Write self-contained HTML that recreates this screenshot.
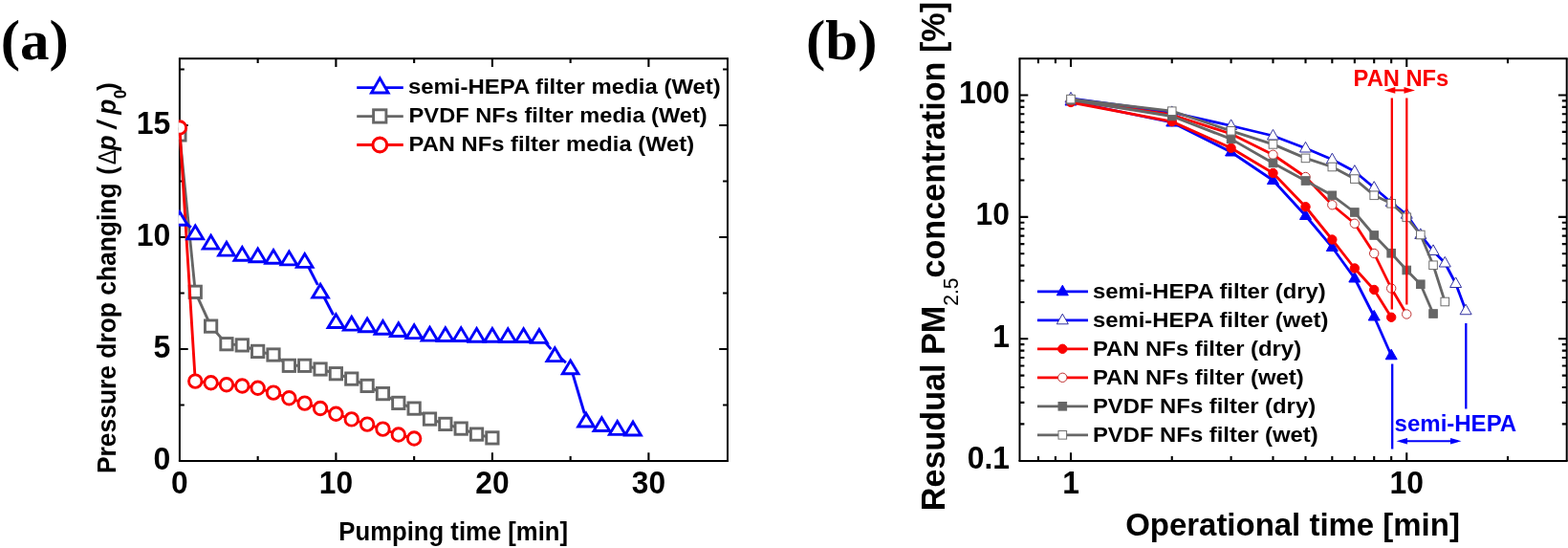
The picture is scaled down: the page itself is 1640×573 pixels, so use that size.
<!DOCTYPE html>
<html><head><meta charset="utf-8"><title>Figure</title>
<style>
html,body{margin:0;padding:0;background:#fff;}
body{width:1640px;height:573px;overflow:hidden;}
svg{display:block;}
text{font-family:"Liberation Sans",sans-serif;font-weight:bold;fill:#000;}
.ser{font-family:"Liberation Serif",serif;font-weight:bold;}
</style></head><body>
<svg width="1640" height="573" viewBox="0 0 1640 573">
<rect x="0" y="0" width="1640" height="573" fill="#fff"/>

<g stroke="#000" fill="none">
<path d="M186.9,61.2H762.0M186.9,482.0H762.0" stroke-width="2.05"/>
<path d="M187.9,61.2V482.0M761.0,61.2V482.0" stroke-width="2.0"/>
<path d="M269.65,482.0v-4.9M269.65,61.2v4.9M351.40,482.0v-8.8M351.40,61.2v8.8M433.15,482.0v-4.9M433.15,61.2v4.9M514.90,482.0v-8.8M514.90,61.2v8.8M596.65,482.0v-4.9M596.65,61.2v4.9M678.40,482.0v-8.8M678.40,61.2v8.8M187.9,423.50h4.9M761.0,423.50h-4.9M187.9,365.00h8.8M761.0,365.00h-8.8M187.9,306.50h4.9M761.0,306.50h-4.9M187.9,248.00h8.8M761.0,248.00h-8.8M187.9,189.50h4.9M761.0,189.50h-4.9M187.9,131.00h8.8M761.0,131.00h-8.8M187.9,72.50h4.9M761.0,72.50h-4.9" stroke-width="2.1"/>
</g>
<clipPath id="clipA"><rect x="186.9" y="61.2" width="573.1" height="420.8"/></clipPath>
<g clip-path="url(#clipA)" fill="#fff" stroke-width="2.9">
<polyline points="187.90,140.90 204.25,305.30 220.60,341.10 236.95,359.70 253.30,360.90 269.65,367.40 286.00,371.00 302.35,382.30 318.70,382.30 335.05,386.00 351.40,390.70 367.75,396.10 384.10,403.40 400.45,411.60 416.80,421.40 433.15,427.10 449.50,438.10 465.85,443.40 482.20,448.10 498.55,454.10 514.90,457.90" fill="none" stroke="#666666" stroke-linejoin="round"/>
<rect x="181.75" y="134.75" width="12.3" height="12.3" stroke="#666666"/>
<rect x="198.10" y="299.15" width="12.3" height="12.3" stroke="#666666"/>
<rect x="214.45" y="334.95" width="12.3" height="12.3" stroke="#666666"/>
<rect x="230.80" y="353.55" width="12.3" height="12.3" stroke="#666666"/>
<rect x="247.15" y="354.75" width="12.3" height="12.3" stroke="#666666"/>
<rect x="263.50" y="361.25" width="12.3" height="12.3" stroke="#666666"/>
<rect x="279.85" y="364.85" width="12.3" height="12.3" stroke="#666666"/>
<rect x="296.20" y="376.15" width="12.3" height="12.3" stroke="#666666"/>
<rect x="312.55" y="376.15" width="12.3" height="12.3" stroke="#666666"/>
<rect x="328.90" y="379.85" width="12.3" height="12.3" stroke="#666666"/>
<rect x="345.25" y="384.55" width="12.3" height="12.3" stroke="#666666"/>
<rect x="361.60" y="389.95" width="12.3" height="12.3" stroke="#666666"/>
<rect x="377.95" y="397.25" width="12.3" height="12.3" stroke="#666666"/>
<rect x="394.30" y="405.45" width="12.3" height="12.3" stroke="#666666"/>
<rect x="410.65" y="415.25" width="12.3" height="12.3" stroke="#666666"/>
<rect x="427.00" y="420.95" width="12.3" height="12.3" stroke="#666666"/>
<rect x="443.35" y="431.95" width="12.3" height="12.3" stroke="#666666"/>
<rect x="459.70" y="437.25" width="12.3" height="12.3" stroke="#666666"/>
<rect x="476.05" y="441.95" width="12.3" height="12.3" stroke="#666666"/>
<rect x="492.40" y="447.95" width="12.3" height="12.3" stroke="#666666"/>
<rect x="508.75" y="451.75" width="12.3" height="12.3" stroke="#666666"/>
<polyline points="187.90,133.50 204.25,398.60 220.60,400.30 236.95,402.30 253.30,403.50 269.65,405.80 286.00,410.60 302.35,416.30 318.70,421.60 335.05,427.00 351.40,432.80 367.75,438.40 384.10,443.60 400.45,448.60 416.80,454.50 433.15,458.50" fill="none" stroke="#fa0000" stroke-linejoin="round"/>
<circle cx="187.90" cy="133.50" r="6.75" stroke="#fa0000"/>
<circle cx="204.25" cy="398.60" r="6.75" stroke="#fa0000"/>
<circle cx="220.60" cy="400.30" r="6.75" stroke="#fa0000"/>
<circle cx="236.95" cy="402.30" r="6.75" stroke="#fa0000"/>
<circle cx="253.30" cy="403.50" r="6.75" stroke="#fa0000"/>
<circle cx="269.65" cy="405.80" r="6.75" stroke="#fa0000"/>
<circle cx="286.00" cy="410.60" r="6.75" stroke="#fa0000"/>
<circle cx="302.35" cy="416.30" r="6.75" stroke="#fa0000"/>
<circle cx="318.70" cy="421.60" r="6.75" stroke="#fa0000"/>
<circle cx="335.05" cy="427.00" r="6.75" stroke="#fa0000"/>
<circle cx="351.40" cy="432.80" r="6.75" stroke="#fa0000"/>
<circle cx="367.75" cy="438.40" r="6.75" stroke="#fa0000"/>
<circle cx="384.10" cy="443.60" r="6.75" stroke="#fa0000"/>
<circle cx="400.45" cy="448.60" r="6.75" stroke="#fa0000"/>
<circle cx="416.80" cy="454.50" r="6.75" stroke="#fa0000"/>
<circle cx="433.15" cy="458.50" r="6.75" stroke="#fa0000"/>
<line x1="192.38" y1="231.30" x2="199.77" y2="237.90" stroke="#0000fa"/>
<line x1="321.44" y1="276.74" x2="332.31" y2="297.86" stroke="#0000fa"/>
<line x1="337.82" y1="308.52" x2="348.63" y2="329.28" stroke="#0000fa"/>
<line x1="567.83" y1="354.98" x2="576.42" y2="365.12" stroke="#0000fa"/>
<line x1="584.98" y1="373.45" x2="591.97" y2="379.05" stroke="#0000fa"/>
<line x1="598.35" y1="388.55" x2="611.30" y2="432.25" stroke="#0000fa"/>
<path d="M187.90,221.46L196.19,235.25L179.61,235.25Z" stroke="#0000fa" stroke-linejoin="miter"/>
<path d="M204.25,236.06L212.54,249.85L195.96,249.85Z" stroke="#0000fa" stroke-linejoin="miter"/>
<path d="M220.60,246.35L228.89,260.15L212.31,260.15Z" stroke="#0000fa" stroke-linejoin="miter"/>
<path d="M236.95,253.35L245.24,267.15L228.66,267.15Z" stroke="#0000fa" stroke-linejoin="miter"/>
<path d="M253.30,258.46L261.59,272.25L245.01,272.25Z" stroke="#0000fa" stroke-linejoin="miter"/>
<path d="M269.65,259.95L277.94,273.75L261.36,273.75Z" stroke="#0000fa" stroke-linejoin="miter"/>
<path d="M286.00,261.45L294.29,275.25L277.71,275.25Z" stroke="#0000fa" stroke-linejoin="miter"/>
<path d="M302.35,263.05L310.64,276.85L294.06,276.85Z" stroke="#0000fa" stroke-linejoin="miter"/>
<path d="M318.70,265.55L326.99,279.35L310.41,279.35Z" stroke="#0000fa" stroke-linejoin="miter"/>
<path d="M335.05,297.35L343.34,311.15L326.76,311.15Z" stroke="#0000fa" stroke-linejoin="miter"/>
<path d="M351.40,328.75L359.69,342.55L343.11,342.55Z" stroke="#0000fa" stroke-linejoin="miter"/>
<path d="M367.75,331.35L376.04,345.15L359.46,345.15Z" stroke="#0000fa" stroke-linejoin="miter"/>
<path d="M384.10,332.95L392.39,346.75L375.81,346.75Z" stroke="#0000fa" stroke-linejoin="miter"/>
<path d="M400.45,335.45L408.74,349.25L392.16,349.25Z" stroke="#0000fa" stroke-linejoin="miter"/>
<path d="M416.80,337.75L425.09,351.55L408.51,351.55Z" stroke="#0000fa" stroke-linejoin="miter"/>
<path d="M433.15,339.85L441.44,353.65L424.86,353.65Z" stroke="#0000fa" stroke-linejoin="miter"/>
<path d="M449.50,342.35L457.79,356.15L441.21,356.15Z" stroke="#0000fa" stroke-linejoin="miter"/>
<path d="M465.85,342.75L474.14,356.55L457.56,356.55Z" stroke="#0000fa" stroke-linejoin="miter"/>
<path d="M482.20,342.75L490.49,356.55L473.91,356.55Z" stroke="#0000fa" stroke-linejoin="miter"/>
<path d="M498.55,343.45L506.84,357.25L490.26,357.25Z" stroke="#0000fa" stroke-linejoin="miter"/>
<path d="M514.90,343.45L523.19,357.25L506.61,357.25Z" stroke="#0000fa" stroke-linejoin="miter"/>
<path d="M531.25,343.75L539.54,357.55L522.96,357.55Z" stroke="#0000fa" stroke-linejoin="miter"/>
<path d="M547.60,343.75L555.89,357.55L539.31,357.55Z" stroke="#0000fa" stroke-linejoin="miter"/>
<path d="M563.95,344.55L572.24,358.35L555.66,358.35Z" stroke="#0000fa" stroke-linejoin="miter"/>
<path d="M580.30,363.85L588.59,377.65L572.01,377.65Z" stroke="#0000fa" stroke-linejoin="miter"/>
<path d="M596.65,376.95L604.94,390.75L588.36,390.75Z" stroke="#0000fa" stroke-linejoin="miter"/>
<path d="M613.00,432.15L621.29,445.95L604.71,445.95Z" stroke="#0000fa" stroke-linejoin="miter"/>
<path d="M629.35,436.75L637.64,450.55L621.06,450.55Z" stroke="#0000fa" stroke-linejoin="miter"/>
<path d="M645.70,440.55L653.99,454.35L637.41,454.35Z" stroke="#0000fa" stroke-linejoin="miter"/>
<path d="M662.05,441.15L670.34,454.95L653.76,454.95Z" stroke="#0000fa" stroke-linejoin="miter"/>
</g>
<text transform="translate(187.90,515.80) scale(0.9600,1)" font-size="33" text-anchor="middle">0</text>
<text transform="translate(351.40,515.80) scale(0.9600,1)" font-size="33" text-anchor="middle">10</text>
<text transform="translate(514.90,515.80) scale(0.9600,1)" font-size="33" text-anchor="middle">20</text>
<text transform="translate(678.40,515.80) scale(0.9600,1)" font-size="33" text-anchor="middle">30</text>
<text transform="translate(178.30,490.90) scale(0.9700,1)" font-size="33" text-anchor="end">0</text>
<text transform="translate(178.30,373.90) scale(0.9700,1)" font-size="33" text-anchor="end">5</text>
<text transform="translate(178.30,256.90) scale(0.9700,1)" font-size="33" text-anchor="end">10</text>
<text transform="translate(178.30,139.90) scale(0.9700,1)" font-size="33" text-anchor="end">15</text>
<text transform="translate(474.20,564.90) scale(0.9610,1)" font-size="26.75" text-anchor="middle">Pumping time [min]</text>
<text transform="translate(121.4,495.0) rotate(-90) scale(0.948,1)" font-size="27.85"><tspan x="0">Pressure drop changing</tspan><tspan x="329.32">(</tspan><tspan x="340.51" font-weight="normal" font-size="25">Δ</tspan><tspan x="356.01" font-style="italic">p</tspan><tspan x="380.27" font-style="italic">/</tspan><tspan x="395.78" font-style="italic">p</tspan><tspan x="413.29" y="10.5" font-size="18">0</tspan><tspan x="421.94" y="0">)</tspan></text>
<line x1="373.2" y1="91.6" x2="421.8" y2="91.6" stroke="#0000fa" stroke-width="2.9"/>
<path d="M397.30,81.85L406.09,96.95L388.51,96.95Z" fill="#fff" stroke="#0000fa" stroke-width="2.9"/>
<text transform="translate(426.90,98.10) scale(1.0510,1)" font-size="22.8">semi-HEPA filter media (Wet)</text>
<line x1="373.2" y1="121.6" x2="421.8" y2="121.6" stroke="#666666" stroke-width="2.9"/>
<rect x="390.6" y="114.8" width="13.3" height="13.3" fill="#fff" stroke="#666666" stroke-width="2.9"/>
<text transform="translate(427.60,128.20) scale(1.0370,1)" font-size="22.8">PVDF NFs filter media (Wet)</text>
<line x1="373.2" y1="151.5" x2="421.8" y2="151.5" stroke="#fa0000" stroke-width="2.9"/>
<circle cx="397.3" cy="151.5" r="7.4" fill="#fff" stroke="#fa0000" stroke-width="3.1"/>
<text transform="translate(427.60,158.30) scale(1.0420,1)" font-size="22.8">PAN NFs filter media (Wet)</text>
<text transform="translate(0.80,61.80) scale(1.0250,1)" font-size="59.5" class="ser">(a)</text>
<text transform="translate(843.00,61.80) scale(1.0250,1)" font-size="59.5" class="ser">(b)</text>
<g stroke="#000" fill="none">
<path d="M1065.5,61.3H1639.7M1065.5,482.0H1639.7" stroke-width="2.05"/>
<path d="M1066.5,61.3V482.0M1638.7,61.3V482.0" stroke-width="2.0"/>
<path d="M1085.96,482.0v-4.9M1085.96,61.3v4.9M1103.93,482.0v-4.9M1103.93,61.3v4.9M1120.00,482.0v-8.8M1120.00,61.3v8.8M1225.74,482.0v-4.9M1225.74,61.3v4.9M1287.59,482.0v-4.9M1287.59,61.3v4.9M1331.47,482.0v-4.9M1331.47,61.3v4.9M1365.51,482.0v-4.9M1365.51,61.3v4.9M1393.33,482.0v-4.9M1393.33,61.3v4.9M1416.84,482.0v-4.9M1416.84,61.3v4.9M1437.21,482.0v-4.9M1437.21,61.3v4.9M1455.18,482.0v-4.9M1455.18,61.3v4.9M1471.25,482.0v-8.8M1471.25,61.3v8.8M1576.99,482.0v-4.9M1576.99,61.3v4.9M1066.5,443.35h4.9M1638.7,443.35h-4.9M1066.5,420.91h4.9M1638.7,420.91h-4.9M1066.5,405.00h4.9M1638.7,405.00h-4.9M1066.5,392.65h4.9M1638.7,392.65h-4.9M1066.5,382.56h4.9M1638.7,382.56h-4.9M1066.5,374.03h4.9M1638.7,374.03h-4.9M1066.5,366.65h4.9M1638.7,366.65h-4.9M1066.5,360.13h4.9M1638.7,360.13h-4.9M1066.5,354.30h8.8M1638.7,354.30h-8.8M1066.5,315.95h4.9M1638.7,315.95h-4.9M1066.5,293.51h4.9M1638.7,293.51h-4.9M1066.5,277.60h4.9M1638.7,277.60h-4.9M1066.5,265.25h4.9M1638.7,265.25h-4.9M1066.5,255.16h4.9M1638.7,255.16h-4.9M1066.5,246.63h4.9M1638.7,246.63h-4.9M1066.5,239.25h4.9M1638.7,239.25h-4.9M1066.5,232.73h4.9M1638.7,232.73h-4.9M1066.5,226.90h8.8M1638.7,226.90h-8.8M1066.5,188.55h4.9M1638.7,188.55h-4.9M1066.5,166.11h4.9M1638.7,166.11h-4.9M1066.5,150.20h4.9M1638.7,150.20h-4.9M1066.5,137.85h4.9M1638.7,137.85h-4.9M1066.5,127.76h4.9M1638.7,127.76h-4.9M1066.5,119.23h4.9M1638.7,119.23h-4.9M1066.5,111.85h4.9M1638.7,111.85h-4.9M1066.5,105.33h4.9M1638.7,105.33h-4.9M1066.5,99.50h8.8M1638.7,99.50h-8.8" stroke-width="2.1"/>
</g>
<clipPath id="clipB"><rect x="1066.5" y="61.3" width="572.2" height="420.7"/></clipPath>
<g clip-path="url(#clipB)">
<polyline points="1120.00,106.00 1225.74,128.00 1287.59,159.00 1331.47,188.50 1365.51,225.50 1393.33,258.50 1416.84,291.00 1437.21,331.00 1455.18,371.75" fill="none" stroke="#0000fa" stroke-width="2.8" stroke-linejoin="round"/>
<path d="M1120.00,99.40L1126.00,110.00L1114.00,110.00Z" fill="#0000fa" stroke="#0000fa" stroke-width="1"/>
<path d="M1225.74,121.40L1231.74,132.00L1219.74,132.00Z" fill="#0000fa" stroke="#0000fa" stroke-width="1"/>
<path d="M1287.59,152.40L1293.59,163.00L1281.59,163.00Z" fill="#0000fa" stroke="#0000fa" stroke-width="1"/>
<path d="M1331.47,181.90L1337.47,192.50L1325.47,192.50Z" fill="#0000fa" stroke="#0000fa" stroke-width="1"/>
<path d="M1365.51,218.90L1371.51,229.50L1359.51,229.50Z" fill="#0000fa" stroke="#0000fa" stroke-width="1"/>
<path d="M1393.33,251.90L1399.33,262.50L1387.33,262.50Z" fill="#0000fa" stroke="#0000fa" stroke-width="1"/>
<path d="M1416.84,284.40L1422.84,295.00L1410.84,295.00Z" fill="#0000fa" stroke="#0000fa" stroke-width="1"/>
<path d="M1437.21,324.40L1443.21,335.00L1431.21,335.00Z" fill="#0000fa" stroke="#0000fa" stroke-width="1"/>
<path d="M1455.18,365.15L1461.18,375.75L1449.18,375.75Z" fill="#0000fa" stroke="#0000fa" stroke-width="1"/>
<polyline points="1120.00,103.00 1225.74,117.50 1287.59,131.50 1331.47,142.00 1365.51,155.00 1393.33,166.80 1416.84,179.25 1437.21,196.25 1455.18,211.75 1471.25,224.25 1485.79,245.50 1499.06,262.50 1511.27,275.00 1522.58,296.50 1533.10,324.75" fill="none" stroke="#0000fa" stroke-width="2.8" stroke-linejoin="round"/>
<path d="M1120.00,96.40L1126.00,107.00L1114.00,107.00Z" fill="#fff" stroke="#3030a0" stroke-width="1"/>
<path d="M1225.74,110.90L1231.74,121.50L1219.74,121.50Z" fill="#fff" stroke="#3030a0" stroke-width="1"/>
<path d="M1287.59,124.90L1293.59,135.50L1281.59,135.50Z" fill="#fff" stroke="#3030a0" stroke-width="1"/>
<path d="M1331.47,135.40L1337.47,146.00L1325.47,146.00Z" fill="#fff" stroke="#3030a0" stroke-width="1"/>
<path d="M1365.51,148.40L1371.51,159.00L1359.51,159.00Z" fill="#fff" stroke="#3030a0" stroke-width="1"/>
<path d="M1393.33,160.20L1399.33,170.80L1387.33,170.80Z" fill="#fff" stroke="#3030a0" stroke-width="1"/>
<path d="M1416.84,172.65L1422.84,183.25L1410.84,183.25Z" fill="#fff" stroke="#3030a0" stroke-width="1"/>
<path d="M1437.21,189.65L1443.21,200.25L1431.21,200.25Z" fill="#fff" stroke="#3030a0" stroke-width="1"/>
<path d="M1455.18,205.15L1461.18,215.75L1449.18,215.75Z" fill="#fff" stroke="#3030a0" stroke-width="1"/>
<path d="M1471.25,217.65L1477.25,228.25L1465.25,228.25Z" fill="#fff" stroke="#3030a0" stroke-width="1"/>
<path d="M1485.79,238.90L1491.79,249.50L1479.79,249.50Z" fill="#fff" stroke="#3030a0" stroke-width="1"/>
<path d="M1499.06,255.90L1505.06,266.50L1493.06,266.50Z" fill="#fff" stroke="#3030a0" stroke-width="1"/>
<path d="M1511.27,268.40L1517.27,279.00L1505.27,279.00Z" fill="#fff" stroke="#3030a0" stroke-width="1"/>
<path d="M1522.58,289.90L1528.58,300.50L1516.58,300.50Z" fill="#fff" stroke="#3030a0" stroke-width="1"/>
<path d="M1533.10,318.15L1539.10,328.75L1527.10,328.75Z" fill="#fff" stroke="#3030a0" stroke-width="1"/>
<polyline points="1120.00,107.00 1225.74,127.10 1287.59,154.75 1331.47,181.00 1365.51,216.25 1393.33,250.50 1416.84,280.50 1437.21,303.00 1455.18,331.75" fill="none" stroke="#fa0000" stroke-width="2.8" stroke-linejoin="round"/>
<circle cx="1120.00" cy="107.00" r="4.7" fill="#fa0000" stroke="#fa0000" stroke-width="1"/>
<circle cx="1225.74" cy="127.10" r="4.7" fill="#fa0000" stroke="#fa0000" stroke-width="1"/>
<circle cx="1287.59" cy="154.75" r="4.7" fill="#fa0000" stroke="#fa0000" stroke-width="1"/>
<circle cx="1331.47" cy="181.00" r="4.7" fill="#fa0000" stroke="#fa0000" stroke-width="1"/>
<circle cx="1365.51" cy="216.25" r="4.7" fill="#fa0000" stroke="#fa0000" stroke-width="1"/>
<circle cx="1393.33" cy="250.50" r="4.7" fill="#fa0000" stroke="#fa0000" stroke-width="1"/>
<circle cx="1416.84" cy="280.50" r="4.7" fill="#fa0000" stroke="#fa0000" stroke-width="1"/>
<circle cx="1437.21" cy="303.00" r="4.7" fill="#fa0000" stroke="#fa0000" stroke-width="1"/>
<circle cx="1455.18" cy="331.75" r="4.7" fill="#fa0000" stroke="#fa0000" stroke-width="1"/>
<polyline points="1120.00,105.00 1225.74,120.00 1287.59,140.00 1331.47,161.75 1365.51,185.00 1393.33,214.25 1416.84,233.75 1437.21,265.00 1455.18,301.50 1471.25,328.50" fill="none" stroke="#fa0000" stroke-width="2.8" stroke-linejoin="round"/>
<circle cx="1120.00" cy="105.00" r="4.7" fill="#fff" stroke="#c03030" stroke-width="1"/>
<circle cx="1225.74" cy="120.00" r="4.7" fill="#fff" stroke="#c03030" stroke-width="1"/>
<circle cx="1287.59" cy="140.00" r="4.7" fill="#fff" stroke="#c03030" stroke-width="1"/>
<circle cx="1331.47" cy="161.75" r="4.7" fill="#fff" stroke="#c03030" stroke-width="1"/>
<circle cx="1365.51" cy="185.00" r="4.7" fill="#fff" stroke="#c03030" stroke-width="1"/>
<circle cx="1393.33" cy="214.25" r="4.7" fill="#fff" stroke="#c03030" stroke-width="1"/>
<circle cx="1416.84" cy="233.75" r="4.7" fill="#fff" stroke="#c03030" stroke-width="1"/>
<circle cx="1437.21" cy="265.00" r="4.7" fill="#fff" stroke="#c03030" stroke-width="1"/>
<circle cx="1455.18" cy="301.50" r="4.7" fill="#fff" stroke="#c03030" stroke-width="1"/>
<circle cx="1471.25" cy="328.50" r="4.7" fill="#fff" stroke="#c03030" stroke-width="1"/>
<polyline points="1120.00,104.50 1225.74,121.50 1287.59,145.40 1331.47,170.50 1365.51,189.00 1393.33,204.30 1416.84,222.00 1437.21,246.00 1455.18,264.75 1471.25,282.50 1485.79,297.25 1499.06,328.00" fill="none" stroke="#666666" stroke-width="2.8" stroke-linejoin="round"/>
<rect x="1115.70" y="100.20" width="8.6" height="8.6" fill="#666666" stroke="#666666" stroke-width="1"/>
<rect x="1221.44" y="117.20" width="8.6" height="8.6" fill="#666666" stroke="#666666" stroke-width="1"/>
<rect x="1283.29" y="141.10" width="8.6" height="8.6" fill="#666666" stroke="#666666" stroke-width="1"/>
<rect x="1327.17" y="166.20" width="8.6" height="8.6" fill="#666666" stroke="#666666" stroke-width="1"/>
<rect x="1361.21" y="184.70" width="8.6" height="8.6" fill="#666666" stroke="#666666" stroke-width="1"/>
<rect x="1389.03" y="200.00" width="8.6" height="8.6" fill="#666666" stroke="#666666" stroke-width="1"/>
<rect x="1412.54" y="217.70" width="8.6" height="8.6" fill="#666666" stroke="#666666" stroke-width="1"/>
<rect x="1432.91" y="241.70" width="8.6" height="8.6" fill="#666666" stroke="#666666" stroke-width="1"/>
<rect x="1450.88" y="260.45" width="8.6" height="8.6" fill="#666666" stroke="#666666" stroke-width="1"/>
<rect x="1466.95" y="278.20" width="8.6" height="8.6" fill="#666666" stroke="#666666" stroke-width="1"/>
<rect x="1481.49" y="292.95" width="8.6" height="8.6" fill="#666666" stroke="#666666" stroke-width="1"/>
<rect x="1494.76" y="323.70" width="8.6" height="8.6" fill="#666666" stroke="#666666" stroke-width="1"/>
<polyline points="1120.00,103.60 1225.74,116.20 1287.59,136.80 1331.47,150.90 1365.51,165.40 1393.33,174.50 1416.84,187.10 1437.21,204.30 1455.18,212.80 1471.25,227.30 1485.79,245.50 1499.06,277.25 1511.27,315.50" fill="none" stroke="#666666" stroke-width="2.8" stroke-linejoin="round"/>
<rect x="1115.70" y="99.30" width="8.6" height="8.6" fill="#fff" stroke="#707070" stroke-width="1"/>
<rect x="1221.44" y="111.90" width="8.6" height="8.6" fill="#fff" stroke="#707070" stroke-width="1"/>
<rect x="1283.29" y="132.50" width="8.6" height="8.6" fill="#fff" stroke="#707070" stroke-width="1"/>
<rect x="1327.17" y="146.60" width="8.6" height="8.6" fill="#fff" stroke="#707070" stroke-width="1"/>
<rect x="1361.21" y="161.10" width="8.6" height="8.6" fill="#fff" stroke="#707070" stroke-width="1"/>
<rect x="1389.03" y="170.20" width="8.6" height="8.6" fill="#fff" stroke="#707070" stroke-width="1"/>
<rect x="1412.54" y="182.80" width="8.6" height="8.6" fill="#fff" stroke="#707070" stroke-width="1"/>
<rect x="1432.91" y="200.00" width="8.6" height="8.6" fill="#fff" stroke="#707070" stroke-width="1"/>
<rect x="1450.88" y="208.50" width="8.6" height="8.6" fill="#fff" stroke="#707070" stroke-width="1"/>
<rect x="1466.95" y="223.00" width="8.6" height="8.6" fill="#fff" stroke="#707070" stroke-width="1"/>
<rect x="1481.49" y="241.20" width="8.6" height="8.6" fill="#fff" stroke="#707070" stroke-width="1"/>
<rect x="1494.76" y="272.95" width="8.6" height="8.6" fill="#fff" stroke="#707070" stroke-width="1"/>
<rect x="1506.97" y="311.20" width="8.6" height="8.6" fill="#fff" stroke="#707070" stroke-width="1"/>
</g>
<g stroke="#fa0000" stroke-width="2.3" fill="none">
<line x1="1455.8" y1="102.5" x2="1455.8" y2="323.5"/>
<line x1="1471.3" y1="102.5" x2="1471.3" y2="318.5"/>
</g>
<line x1="1458.3" y1="94.4" x2="1469.5" y2="94.4" stroke="#fa0000" stroke-width="2.1"/>
<path d="M1447.8,94.4l11.5,-3.3v6.6zM1480.0,94.4l-11.5,-3.3v6.6z" fill="#fa0000"/>
<text x="1415.6" y="90" font-size="23.7" style="fill:#fa0000">PAN NFs</text>
<g stroke="#0000fa" stroke-width="2.3" fill="none">
<line x1="1456.2" y1="380.5" x2="1456.2" y2="469.5"/>
<line x1="1533.3" y1="338" x2="1533.3" y2="427.5"/>
</g>
<line x1="1471.0" y1="461.2" x2="1518.0" y2="461.2" stroke="#0000fa" stroke-width="2.1"/>
<path d="M1460.5,461.2l11.5,-3.3v6.6zM1528.5,461.2l-11.5,-3.3v6.6z" fill="#0000fa"/>
<text x="1458.6" y="451.2" font-size="24" style="fill:#0000fa">semi-HEPA</text>
<text transform="translate(1120.00,515.80) scale(0.9650,1)" font-size="33" text-anchor="middle">1</text>
<text transform="translate(1471.25,515.80) scale(0.9650,1)" font-size="33" text-anchor="middle">10</text>
<text transform="translate(1056.00,107.70) scale(0.9650,1)" font-size="33" text-anchor="end">100</text>
<text transform="translate(1056.00,235.10) scale(0.9650,1)" font-size="33" text-anchor="end">10</text>
<text transform="translate(1056.00,362.50) scale(0.9650,1)" font-size="33" text-anchor="end">1</text>
<text transform="translate(1056.00,489.90) scale(0.9650,1)" font-size="33" text-anchor="end">0.1</text>
<text transform="translate(1352.00,559.50) scale(0.9780,1)" font-size="33.7" text-anchor="middle">Operational time [min]</text>
<text transform="translate(988.3,268.1) rotate(-90) scale(0.977,1)" font-size="35" text-anchor="middle">Resudual PM<tspan font-size="21.5" font-weight="normal" dy="13.5">2.5</tspan><tspan dy="-13.5">concentration [%]</tspan></text>
<line x1="1085" y1="304.80" x2="1138" y2="304.80" stroke="#0000fa" stroke-width="2.8"/>
<path d="M1111.30,298.20L1117.30,308.80L1105.30,308.80Z" fill="#0000fa" stroke="#0000fa" stroke-width="1"/>
<text transform="translate(1142.90,312.20) scale(1.0460,1)" font-size="22.8">semi-HEPA filter (dry)</text>
<line x1="1085" y1="334.80" x2="1138" y2="334.80" stroke="#0000fa" stroke-width="2.8"/>
<path d="M1111.30,328.20L1117.30,338.80L1105.30,338.80Z" fill="#fff" stroke="#3030a0" stroke-width="1"/>
<text transform="translate(1142.90,342.20) scale(1.0460,1)" font-size="22.8">semi-HEPA filter (wet)</text>
<line x1="1085" y1="364.80" x2="1138" y2="364.80" stroke="#fa0000" stroke-width="2.8"/>
<circle cx="1111.30" cy="364.80" r="4.7" fill="#fa0000" stroke="#fa0000" stroke-width="1"/>
<text transform="translate(1142.90,372.20) scale(1.0460,1)" font-size="22.8">PAN NFs filter (dry)</text>
<line x1="1085" y1="394.80" x2="1138" y2="394.80" stroke="#fa0000" stroke-width="2.8"/>
<circle cx="1111.30" cy="394.80" r="4.7" fill="#fff" stroke="#c03030" stroke-width="1"/>
<text transform="translate(1142.90,402.20) scale(1.0460,1)" font-size="22.8">PAN NFs filter (wet)</text>
<line x1="1085" y1="424.80" x2="1138" y2="424.80" stroke="#666666" stroke-width="2.8"/>
<rect x="1107.00" y="420.50" width="8.6" height="8.6" fill="#666666" stroke="#666666" stroke-width="1"/>
<text transform="translate(1142.90,432.20) scale(1.0460,1)" font-size="22.8">PVDF NFs filter (dry)</text>
<line x1="1085" y1="454.80" x2="1138" y2="454.80" stroke="#666666" stroke-width="2.8"/>
<rect x="1107.00" y="450.50" width="8.6" height="8.6" fill="#fff" stroke="#707070" stroke-width="1"/>
<text transform="translate(1142.90,462.20) scale(1.0460,1)" font-size="22.8">PVDF NFs filter (wet)</text>
</svg></body></html>
